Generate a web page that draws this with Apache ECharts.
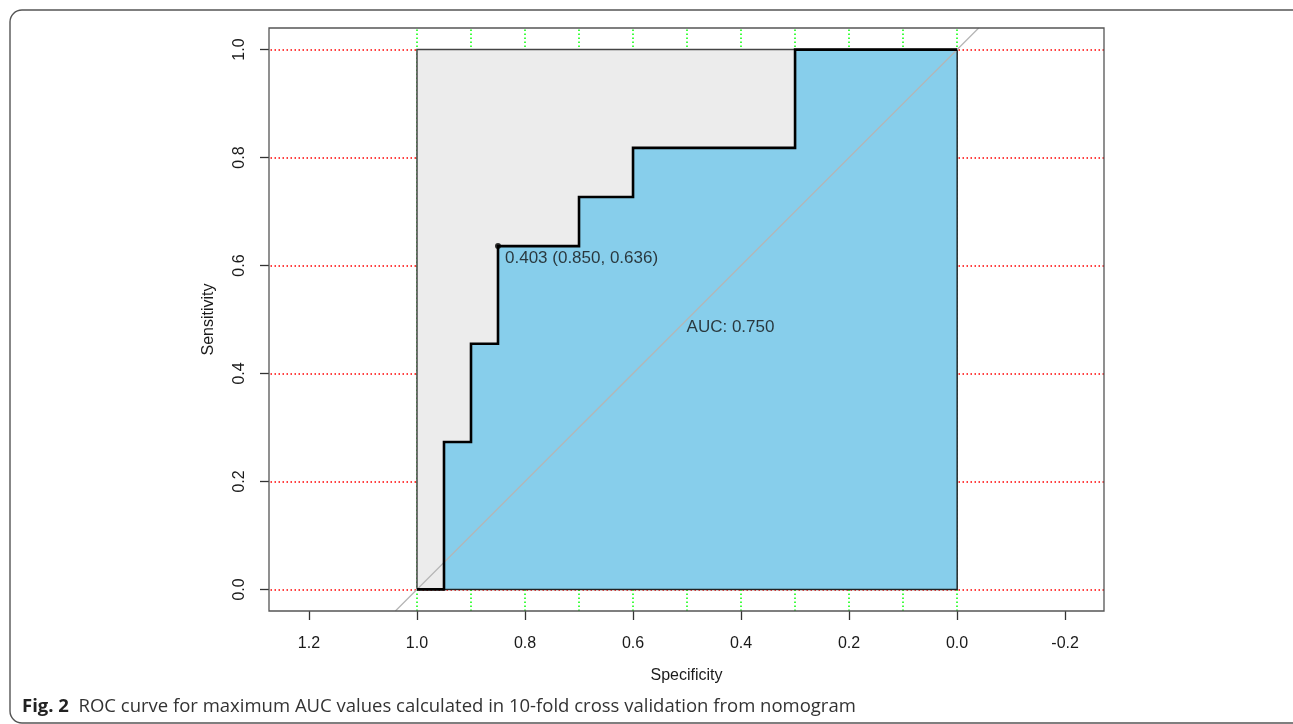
<!DOCTYPE html>
<html>
<head>
<meta charset="utf-8">
<script src="https://cdn.jsdelivr.net/npm/echarts@6/dist/echarts.min.js"></script>
<style>
html,body{margin:0;padding:0;background:#fff;}
#chart{width:1293px;height:724px;}
</style>
</head>
<body>
<div id="chart"></div>
<script>
// ROC curve (specificity on reversed x axis, sensitivity on y axis)
const specificity = [1.00, 0.95, 0.95, 0.90, 0.90, 0.85, 0.85, 0.70, 0.70, 0.60, 0.60, 0.30, 0.30, 0.00];
const sensitivity = [0.000, 0.000, 0.273, 0.273, 0.455, 0.455, 0.636, 0.636, 0.727, 0.727, 0.818, 0.818, 1.000, 1.000];
const aucValue = 0.750;
const bestThreshold = 0.403;
const bestSpec = 0.850;
const bestSens = 0.636;
const xTickValues = [1.2, 1.0, 0.8, 0.6, 0.4, 0.2, 0.0, -0.2];
const yTickValues = [0.0, 0.2, 0.4, 0.6, 0.8, 1.0];
const xGridValues = [1.0, 0.9, 0.8, 0.7, 0.6, 0.5, 0.4, 0.3, 0.2, 0.1, 0.0];
const yGridValues = [0.0, 0.2, 0.4, 0.6, 0.8, 1.0];
const maxAucSpec = [1, 1, 0, 0];
const maxAucSens = [0, 1, 1, 0];
const diagSpec = [1.04, -0.04];
const diagSens = [-0.04, 1.04];
const xTitle = 'Specificity';
const yTitle = 'Sensitivity';
const caption = 'ROC curve for maximum AUC values calculated in 10-fold cross validation from nomogram';

const FONT = '"Liberation Sans", Arial, sans-serif';
const CAPFONT = '"Open Sans", "Noto Sans", sans-serif';
const chart = echarts.init(document.getElementById('chart'));

function polygonSeries(xs, ys, style, z) {
  return {
    type: 'custom',
    z: z,
    clip: true,
    silent: true,
    data: xs.map((x, i) => [x, ys[i]]),
    encode: { x: 0, y: 1 },
    renderItem: function (params, api) {
      if (params.dataIndex !== 0) return;
      const pts = xs.map((x, i) => api.coord([x, ys[i]]));
      return { type: 'polygon', shape: { points: pts }, style: style };
    }
  };
}

const aucPolySpec = specificity.concat([0]);
const aucPolySens = sensitivity.concat([0]);

const option = {
  animation: false,
  backgroundColor: '#ffffff',
  grid: { left: 269, top: 28, width: 835, height: 583, show: true, borderColor: '#555', borderWidth: 1.3, backgroundColor: 'transparent', z: 10 },
  xAxis: {
    type: 'value', inverse: true, min: -0.272, max: 1.274,
    name: xTitle, nameLocation: 'middle', nameGap: 57,
    nameTextStyle: { fontFamily: FONT, fontSize: 16, color: '#1a1a1a' },
    axisLine: { show: false, onZero: false },
    splitLine: { show: false },
    axisTick: { show: true, length: 9, lineStyle: { color: '#333', width: 1.3 }, customValues: xTickValues },
    axisLabel: { fontFamily: FONT, fontSize: 16, color: '#1a1a1a', margin: 25, customValues: xTickValues, formatter: v => v.toFixed(1) }
  },
  yAxis: {
    type: 'value', min: -0.04, max: 1.04,
    name: yTitle, nameLocation: 'middle', nameGap: 52, nameRotate: 90,
    nameTextStyle: { fontFamily: FONT, fontSize: 16, color: '#1a1a1a' },
    axisLine: { show: false, onZero: false },
    splitLine: { show: false },
    axisTick: { show: true, length: 9, lineStyle: { color: '#333', width: 1.3 }, customValues: yTickValues },
    axisLabel: { fontFamily: FONT, fontSize: 16, color: '#1a1a1a', margin: 21, rotate: 90, customValues: yTickValues, formatter: v => v.toFixed(1) }
  },
  graphic: [
    { type: 'rect', shape: { x: 10, y: 10, width: 1310, height: 713, r: 12 }, style: { fill: 'none', stroke: '#555', lineWidth: 1.4 }, silent: true },
    { type: 'text', x: 22, y: 707, style: { text: '{b|Fig. 2}  ' + caption, fontFamily: CAPFONT, fontSize: 18.5, fill: '#333', verticalAlign: 'middle', rich: { b: { fontWeight: 'bold', fontFamily: CAPFONT, fontSize: 18.5, fill: '#222' } } }, silent: true }
  ],
  series: [
    {
      type: 'line', data: [], z: 1, silent: true,
      markLine: {
        z: 1, silent: true, symbol: ['none', 'none'], label: { show: false },
        lineStyle: { color: '#ff0000', type: [1.5, 2.5], width: 1.5 },
        data: yGridValues.map(v => ({ yAxis: v }))
      }
    },
    {
      type: 'line', data: [], z: 1, silent: true,
      markLine: {
        z: 1, silent: true, symbol: ['none', 'none'], label: { show: false },
        lineStyle: { color: '#00ff00', type: [1.5, 2.5], width: 1.5 },
        data: xGridValues.map(v => ({ xAxis: v }))
      }
    },
    polygonSeries(maxAucSpec, maxAucSens, { fill: '#ececec', stroke: '#444', lineWidth: 1.5 }, 3),
    polygonSeries(aucPolySpec, aucPolySens, { fill: '#87ceeb', stroke: '#222', lineWidth: 1.3 }, 4),
    {
      type: 'line', z: 5, silent: true, clip: true, symbol: 'none',
      data: diagSpec.map((x, i) => [x, diagSens[i]]),
      lineStyle: { color: '#b5b5b5', width: 1.2 }
    },
    {
      type: 'line', z: 6, silent: true, symbol: 'none',
      data: specificity.map((x, i) => [x, sensitivity[i]]),
      lineStyle: { color: '#000', width: 2.6, join: 'miter' }
    },
    {
      type: 'scatter', z: 7, silent: true, symbolSize: 6,
      itemStyle: { color: '#000' },
      data: [[bestSpec, bestSens]],
      label: {
        show: true, position: 'right', distance: 4, offset: [0, 12],
        fontFamily: FONT, fontSize: 17, color: '#111',
        formatter: () => bestThreshold.toFixed(3) + ' (' + bestSpec.toFixed(3) + ', ' + bestSens.toFixed(3) + ')'
      }
    },
    {
      type: 'scatter', z: 7, silent: true, symbolSize: 1,
      itemStyle: { color: 'transparent' },
      data: [[0.5, 0.5]],
      label: {
        show: true, position: [0, 0], align: 'left', verticalAlign: 'top',
        fontFamily: FONT, fontSize: 17, color: '#111',
        formatter: () => 'AUC: ' + aucValue.toFixed(3)
      }
    }
  ]
};
chart.setOption(option);
</script>
</body>
</html>
